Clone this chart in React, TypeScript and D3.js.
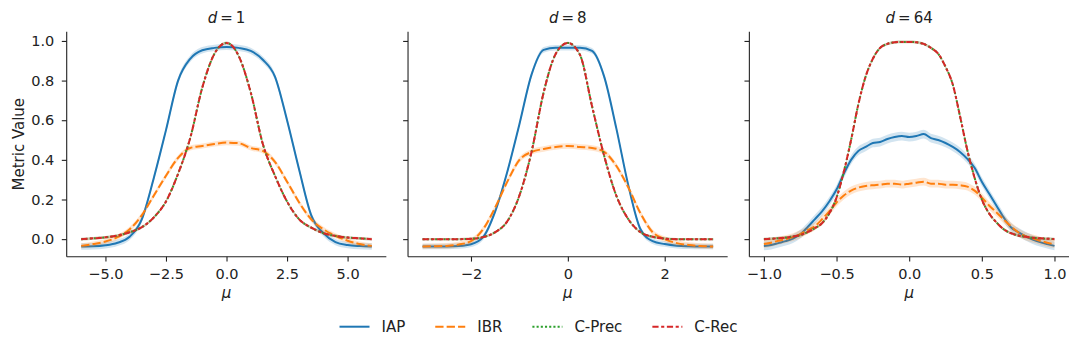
import React from 'react';
import * as d3 from 'd3';

// legend / series names
const seriesNames = ['IAP', 'IBR', 'C-Prec', 'C-Rec'];
const dims = ['1', '8', '64'];

// d = 1
const mu1 = [-6, -5.5, -5, -4.5, -4, -3.5, -3, -2.5, -2, -1.5, -1, -0.5, 0, 0.5, 1, 1.5, 2, 2.5, 3, 3.5, 4, 4.5, 5, 5.5, 6];
const iap1 = [-0.037, -0.036, -0.031, -0.018, 0.012, 0.1, 0.31, 0.55, 0.8, 0.91, 0.953, 0.965, 0.97, 0.965, 0.95, 0.905, 0.82, 0.6, 0.35, 0.12, 0.03, -0.015, -0.03, -0.035, -0.037];
const ibr1 = [-0.034, -0.025, -0.012, 0.01, 0.05, 0.12, 0.22, 0.32, 0.41, 0.46, 0.47, 0.48, 0.487, 0.484, 0.46, 0.445, 0.39, 0.29, 0.185, 0.1, 0.05, 0.017, -0.008, -0.025, -0.034];
const cprec1 = [0.0, 0.004, 0.009, 0.018, 0.035, 0.06, 0.11, 0.19, 0.33, 0.51, 0.765, 0.935, 0.99, 0.925, 0.74, 0.48, 0.32, 0.19, 0.1, 0.058, 0.03, 0.016, 0.008, 0.004, 0.0];
const crec1 = [0.0, 0.004, 0.009, 0.018, 0.035, 0.06, 0.11, 0.19, 0.33, 0.51, 0.765, 0.935, 0.99, 0.925, 0.74, 0.48, 0.32, 0.19, 0.1, 0.058, 0.03, 0.016, 0.008, 0.004, 0.0];

// d = 8
const mu2 = [-3, -2.75, -2.5, -2.25, -2, -1.75, -1.5, -1.25, -1, -0.75, -0.5, -0.25, 0, 0.25, 0.5, 0.75, 1, 1.25, 1.5, 1.75, 2, 2.25, 2.5, 2.75, 3];
const iap2 = [-0.037, -0.037, -0.037, -0.035, -0.026, 0.01, 0.14, 0.34, 0.58, 0.83, 0.955, 0.966, 0.966, 0.966, 0.95, 0.82, 0.56, 0.27, 0.05, -0.01, -0.025, -0.033, -0.036, -0.037, -0.037];
const ibr2 = [-0.037, -0.036, -0.034, -0.027, -0.01, 0.05, 0.16, 0.29, 0.4, 0.44, 0.455, 0.465, 0.47, 0.465, 0.46, 0.44, 0.37, 0.26, 0.13, 0.035, 0.0, -0.02, -0.03, -0.035, -0.037];
const cprec2 = [0, 0, 0, 0, 0.002, 0.01, 0.035, 0.09, 0.22, 0.44, 0.74, 0.935, 0.99, 0.93, 0.67, 0.42, 0.22, 0.1, 0.035, 0.012, 0.003, 0, 0, 0, 0];
const crec2 = [0, 0, 0, 0, 0.002, 0.01, 0.035, 0.09, 0.22, 0.44, 0.74, 0.935, 0.99, 0.93, 0.67, 0.42, 0.22, 0.1, 0.035, 0.012, 0.003, 0, 0, 0, 0];

// d = 64
const mu3 = [-1, -0.95, -0.9, -0.85, -0.8, -0.75, -0.7, -0.65, -0.6, -0.55, -0.5, -0.45, -0.4, -0.35, -0.3, -0.25, -0.2, -0.15, -0.1, -0.05, 0, 0.05, 0.1, 0.15, 0.2, 0.25, 0.3, 0.35, 0.4, 0.45, 0.5, 0.55, 0.6, 0.65, 0.7, 0.75, 0.8, 0.85, 0.9, 0.95, 1];
const iap3 = [-0.034, -0.03, -0.02, -0.01, 0.003, 0.025, 0.06, 0.1, 0.14, 0.19, 0.25, 0.33, 0.4, 0.445, 0.465, 0.485, 0.49, 0.505, 0.515, 0.52, 0.515, 0.52, 0.53, 0.51, 0.5, 0.485, 0.465, 0.44, 0.405, 0.36, 0.29, 0.23, 0.17, 0.11, 0.06, 0.035, 0.015, -0.002, -0.015, -0.025, -0.034];
const ibr3 = [-0.025, -0.018, -0.008, 0.0, 0.01, 0.025, 0.045, 0.065, 0.1, 0.14, 0.185, 0.22, 0.245, 0.26, 0.268, 0.272, 0.275, 0.28, 0.28, 0.275, 0.28, 0.285, 0.29, 0.28, 0.28, 0.275, 0.275, 0.272, 0.265, 0.245, 0.21, 0.17, 0.135, 0.1, 0.065, 0.035, 0.015, 0.003, -0.008, -0.018, -0.025];
const cprec3 = [0, 0.002, 0.005, 0.008, 0.013, 0.02, 0.035, 0.055, 0.08, 0.13, 0.21, 0.34, 0.5, 0.68, 0.82, 0.91, 0.965, 0.985, 0.993, 0.995, 0.995, 0.993, 0.985, 0.965, 0.935, 0.87, 0.78, 0.62, 0.45, 0.31, 0.2, 0.13, 0.085, 0.05, 0.03, 0.018, 0.012, 0.007, 0.004, 0.002, 0];
const crec3 = [0, 0.002, 0.005, 0.008, 0.013, 0.02, 0.035, 0.055, 0.08, 0.13, 0.21, 0.34, 0.5, 0.68, 0.82, 0.91, 0.965, 0.985, 0.993, 0.995, 0.995, 0.993, 0.985, 0.965, 0.935, 0.87, 0.78, 0.62, 0.45, 0.31, 0.2, 0.13, 0.085, 0.05, 0.03, 0.018, 0.012, 0.007, 0.004, 0.002, 0];

// confidence band half-widths per panel
const ciIAP = [0.016, 0.014, 0.022];
const ciIBR = [0.013, 0.014, 0.02];
const ciCPrec = [0.007, 0.006, 0.007];
const ciCRec = [0.007, 0.006, 0.007];

// tick values
const xTicks1 = [-5, -2.5, 0, 2.5, 5];
const xTicks2 = [-2, 0, 2];
const xTicks3 = [-1, -0.5, 0, 0.5, 1];
const yTicks = [0, 0.2, 0.4, 0.6, 0.8, 1.0];

const colors = ['#1f77b4', '#ff7f0e', '#2ca02c', '#d62728'];
const dashes = [null, '8.3,3.1', '2.1,2.1', '6.2,2.6,3.1,2.6'];
const font = '"DejaVu Sans", sans-serif';

const panels = [
    { d: dims[0], mu: mu1, vals: [iap1, ibr1, cprec1, crec1], ticks: xTicks1, fmt: d3.format('.1f') },
    { d: dims[1], mu: mu2, vals: [iap2, ibr2, cprec2, crec2], ticks: xTicks2, fmt: d3.format('d') },
    { d: dims[2], mu: mu3, vals: [iap3, ibr3, cprec3, crec3], ticks: xTicks3, fmt: d3.format('.1f') },
];
const cis = [ciIAP, ciIBR, ciCPrec, ciCRec];

export default class App extends React.Component {
    svgRef = React.createRef<SVGSVGElement>();

    componentDidMount() {
        this._setupD3();
    }

    componentDidUpdate() {
        this._setupD3();
    }

    render() {
        return (
            <svg ref={this.svgRef} width={1080} height={352}
                style={{ position: 'absolute', left: 0, top: 0, background: '#fff' }} />
        );
    }

    _setupD3 = () => {
        const width = 1080,
            margin = { top: 31.7, right: 11, bottom: 95.3, left: 66.7 },
            gap = 21.7,
            panelW = (width - margin.left - margin.right - 2 * gap) / 3,
            plotBottom = 352 - margin.bottom;

        const svg = d3.select(this.svgRef.current);
        svg.selectAll('*').remove();
        svg.attr('font-family', font);

        // shared y, matplotlib-style 5% padding around the lines
        const all = panels.flatMap(p => p.vals.flat());
        const [lo, hi] = d3.extent(all) as [number, number];
        const pad = (hi - lo) * 0.05;
        const y = d3.scaleLinear().domain([lo - pad, hi + pad]).range([plotBottom, margin.top]);

        panels.forEach((p, i) => {
            const x0 = margin.left + i * (panelW + gap);
            const [mlo, mhi] = d3.extent(p.mu) as [number, number];
            const mpad = (mhi - mlo) * 0.05;
            const x = d3.scaleLinear().domain([mlo - mpad, mhi + mpad]).range([x0, x0 + panelW]);
            const g = svg.append('g');

            p.vals.forEach((vals, s) => {
                const rows = p.mu.map((m, k) => ({ m, v: vals[k] }));
                const ci = cis[s][i];
                const area = d3.area<any>()
                    .curve(d3.curveMonotoneX)
                    .x(d => x(d.m))
                    .y0(d => y(d.v - ci))
                    .y1(d => y(d.v + ci));
                g.append('path')
                    .attr('d', area(rows))
                    .attr('fill', colors[s])
                    .attr('fill-opacity', 0.2);
                const line = d3.line<any>()
                    .curve(d3.curveMonotoneX)
                    .x(d => x(d.m))
                    .y(d => y(d.v));
                const path = g.append('path')
                    .attr('d', line(rows))
                    .attr('fill', 'none')
                    .attr('stroke', colors[s])
                    .attr('stroke-width', 2);
                if (dashes[s]) path.attr('stroke-dasharray', dashes[s]);
            });

            // x axis
            const xa = g.append('g')
                .attr('transform', `translate(0,${plotBottom})`)
                .call(d3.axisBottom(x).tickValues(p.ticks).tickFormat(p.fmt as any).tickSizeOuter(0).tickSize(4.9).tickPadding(7.3));
            // y axis
            const ya = g.append('g')
                .attr('transform', `translate(${x0},0)`)
                .call(d3.axisLeft(y).tickValues(yTicks).tickFormat(i === 0 ? (d3.format('.1f') as any) : () => '').tickSizeOuter(0).tickSize(4.9).tickPadding(7.5));
            [xa, ya].forEach(a => {
                a.attr('font-family', font).attr('font-size', 14.5);
                a.select('.domain').attr('stroke', '#222').attr('stroke-width', 1.1);
                a.selectAll('.tick line').attr('stroke', '#222').attr('stroke-width', 1.1);
                a.selectAll('.tick text').attr('fill', '#222');
            });
            // spines run over the padded domain
            xa.select('.domain').attr('d', `M${x0},0H${x0 + panelW}`);
            ya.select('.domain').attr('d', `M0,${plotBottom}V${margin.top}`);

            // title
            const t = g.append('text')
                .attr('x', x0 + panelW / 2)
                .attr('y', 23.3)
                .attr('text-anchor', 'middle')
                .attr('font-size', 15)
                .attr('fill', '#222');
            t.append('tspan').attr('font-style', 'italic').text('d');
            t.append('tspan').text('\u2009=\u2009' + p.d);

            // x label
            g.append('text')
                .attr('x', x0 + panelW / 2)
                .attr('y', 297.5)
                .attr('text-anchor', 'middle')
                .attr('font-size', 15)
                .attr('font-style', 'italic')
                .attr('fill', '#222')
                .text('μ');
        });

        // y label
        svg.append('text')
            .attr('transform', `translate(24,${(margin.top + plotBottom) / 2}) rotate(-90)`)
            .attr('text-anchor', 'middle')
            .attr('font-size', 15)
            .attr('fill', '#222')
            .text('Metric Value');

        this._legend(svg);
    }

    _legend = (svg: any) => {
        const fs = 15, handle = 2 * fs, textPad = 0.8 * fs, colSpace = 2 * fs, cy = 326.7, cx = 538.5;
        const g = svg.append('g').attr('font-size', fs).attr('font-family', font);
        const items = seriesNames.map((name, i) => {
            const it = g.append('g');
            const line = it.append('line')
                .attr('x1', 0).attr('x2', handle)
                .attr('y1', cy).attr('y2', cy)
                .attr('stroke', colors[i])
                .attr('stroke-width', 2);
            if (dashes[i]) line.attr('stroke-dasharray', dashes[i]);
            const txt = it.append('text')
                .attr('x', handle + textPad)
                .attr('y', cy)
                .attr('dy', '0.35em')
                .attr('fill', '#222')
                .text(name);
            return { it, w: handle + textPad + (txt.node() as SVGTextElement).getComputedTextLength() };
        });
        const total = d3.sum(items, d => d.w) + colSpace * (items.length - 1);
        let pos = cx - total / 2;
        items.forEach(d => {
            d.it.attr('transform', `translate(${pos},0)`);
            pos += d.w + colSpace;
        });
    }
}
